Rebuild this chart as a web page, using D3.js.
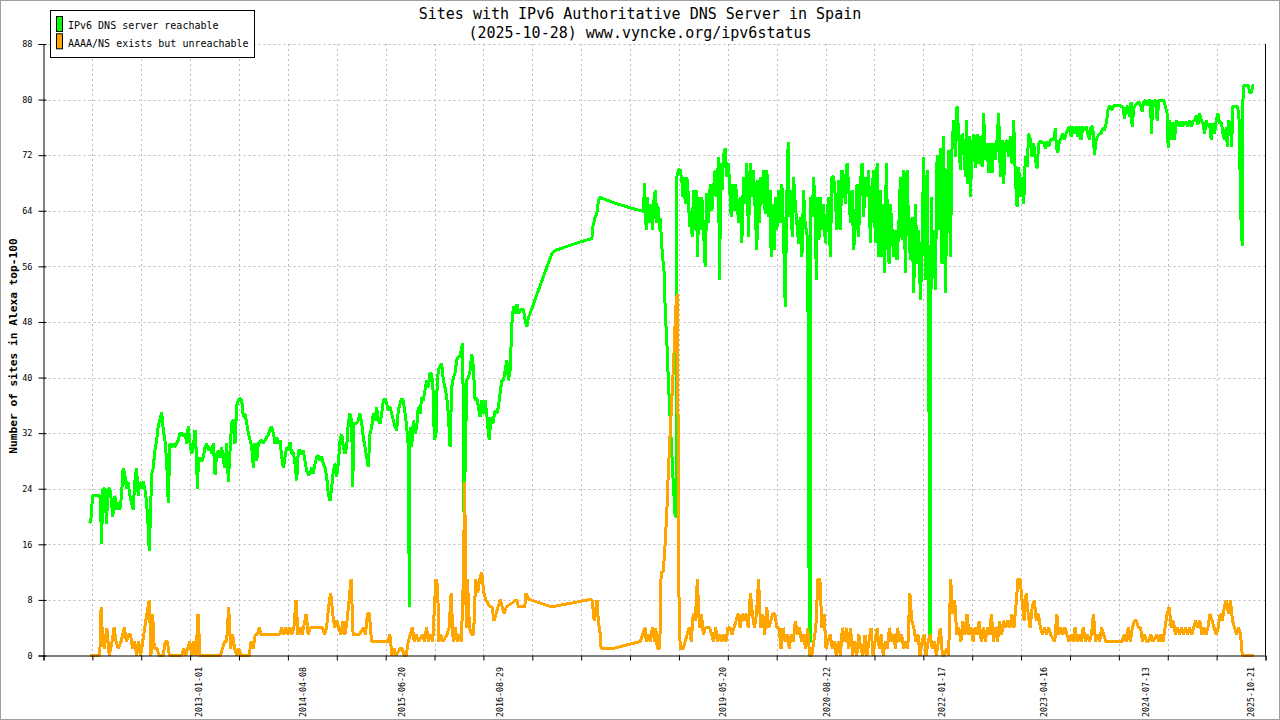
<!DOCTYPE html>
<html>
<head>
<meta charset="utf-8">
<script src="https://cdn.jsdelivr.net/npm/d3@7"></script>
<style>
  html, body { margin: 0; padding: 0; background: #fff; }
  svg { display: block; }
</style>
</head>
<body>
<div id="root"></div>
<script>
// values: [decimal year, number of sites]
const reachable = [
  [2011.672,19],[2011.690,20],[2011.705,23],[2011.745,23],[2011.794,23],[2011.803,22],[2011.815,16],[2011.831,24],
  [2011.855,24],[2011.876,19],[2011.892,24],[2011.916,24],[2011.937,22],[2011.952,20],[2011.977,23],[2011.998,21],
  [2012.013,22],[2012.038,21],[2012.058,23],[2012.078,27],[2012.099,26],[2012.119,24],[2012.139,25],[2012.160,23],
  [2012.180,22],[2012.200,21],[2012.220,25],[2012.241,27],[2012.261,23],[2012.281,25],[2012.302,24],[2012.322,25],
  [2012.342,24],[2012.363,22],[2012.383,18.5],[2012.395,15],[2012.412,21],[2012.424,26],[2012.443,27],[2012.464,29.5],
  [2012.485,31],[2012.504,33],[2012.525,34],[2012.546,35],[2012.565,32.5],[2012.586,31],[2012.607,28],[2012.626,22],
  [2012.647,30.5],[2012.667,30],[2012.687,30.5],[2012.708,30],[2012.728,30.5],[2012.748,31],[2012.769,32],[2012.789,32],
  [2012.809,31.5],[2012.830,32],[2012.850,30.5],[2012.870,33],[2012.891,30.5],[2012.911,29],[2012.931,30],[2012.952,32.5],
  [2012.972,28],[2012.979,24],[2012.992,27.5],[2013.012,28.5],[2013.033,28],[2013.052,28.5],[2013.073,30],[2013.094,30.5],
  [2013.113,29.5],[2013.134,30],[2013.155,29],[2013.174,30.5],[2013.195,26],[2013.215,29],[2013.235,29.5],[2013.256,28.5],
  [2013.276,30],[2013.296,28],[2013.317,27],[2013.337,30.5],[2013.357,25],[2013.378,29.5],[2013.398,33.5],[2013.418,34],
  [2013.438,30.5],[2013.459,36],[2013.479,36.7],[2013.499,37],[2013.520,36.7],[2013.540,34.3],[2013.560,34.8],[2013.581,33.4],
  [2013.601,32],[2013.621,31],[2013.642,30],[2013.662,27],[2013.682,30.5],[2013.703,28],[2013.722,30.5],[2013.743,30.7],
  [2013.764,31],[2013.783,30.5],[2013.804,31],[2013.825,31.4],[2013.844,31.7],[2013.865,32.6],[2013.885,32.9],[2013.905,32],
  [2013.926,30.5],[2013.946,31.4],[2013.966,30.5],[2013.987,31],[2014.007,28.6],[2014.027,27],[2014.048,28.6],[2014.068,30],
  [2014.088,29.5],[2014.108,30.7],[2014.129,29],[2014.149,29.3],[2014.169,27.6],[2014.190,25.2],[2014.210,29.5],[2014.230,29.5],
  [2014.251,29],[2014.271,29.5],[2014.291,28],[2014.312,26.6],[2014.331,26],[2014.352,26.2],[2014.373,27.1],[2014.392,26.2],
  [2014.413,27.6],[2014.434,28.6],[2014.453,28.8],[2014.474,28],[2014.495,28.6],[2014.514,27.6],[2014.535,27.1],[2014.555,25.7],
  [2014.575,23.3],[2014.596,22.3],[2014.616,24.2],[2014.636,26.6],[2014.657,27.6],[2014.677,25.7],[2014.697,27.6],[2014.718,31],
  [2014.738,31.9],[2014.758,30],[2014.779,29],[2014.799,30],[2014.818,33.4],[2014.839,34.8],[2014.860,33.8],[2014.872,24.2],
  [2014.888,33.4],[2014.921,33.4],[2014.940,33.8],[2014.961,34.8],[2014.982,33.4],[2015.001,31.4],[2015.022,30],[2015.043,28.6],
  [2015.062,27.1],[2015.083,31.9],[2015.104,32.9],[2015.123,34.8],[2015.144,33.8],[2015.164,35.8],[2015.184,33.8],[2015.205,33.4],
  [2015.225,34.8],[2015.245,36.7],[2015.266,37],[2015.286,36.2],[2015.306,35.3],[2015.326,35.8],[2015.347,34.8],[2015.367,33.8],
  [2015.387,32.9],[2015.408,32.4],[2015.428,35.3],[2015.448,36.2],[2015.469,37],[2015.489,36.7],[2015.510,34.8],[2015.530,32.9],
  [2015.550,30],[2015.562,7],[2015.571,32.9],[2015.591,30],[2015.611,33.8],[2015.632,31.9],[2015.652,32.9],[2015.671,35.8],
  [2015.692,34.8],[2015.713,37.2],[2015.732,36.7],[2015.753,38.2],[2015.773,39.6],[2015.793,38.6],[2015.814,40.6],[2015.834,40.6],
  [2015.854,37.7],[2015.866,31],[2015.887,31.9],[2015.903,40],[2015.927,41.5],[2015.956,42],[2015.976,39.6],[2015.996,38.6],
  [2016.017,37.2],[2016.037,34.8],[2016.058,30],[2016.078,38.6],[2016.098,40],[2016.118,40.6],[2016.139,42.5],[2016.158,43],
  [2016.179,43],[2016.200,44.4],[2016.212,44.9],[2016.219,33],[2016.228,20],[2016.246,30],[2016.261,39.6],[2016.280,40],
  [2016.301,41],[2016.322,43.4],[2016.341,41.5],[2016.362,36.7],[2016.382,37.2],[2016.402,35.8],[2016.423,34.3],[2016.443,36.7],
  [2016.463,34.8],[2016.484,36.7],[2016.504,34.8],[2016.524,31.9],[2016.536,31],[2016.553,34.3],[2016.578,33.4],[2016.605,35.3],
  [2016.626,34.8],[2016.646,35.8],[2016.666,37.7],[2016.687,39.6],[2016.706,39.6],[2016.727,41],[2016.748,42.5],[2016.767,39.6],
  [2016.788,41],[2016.809,47.8],[2016.828,50.2],[2016.849,49.2],[2016.870,50.6],[2016.889,49.2],[2016.910,49.7],[2016.931,49.9],
  [2016.950,49.7],[2016.971,48.2],[2016.991,47.3],[2017.011,48.7],[2017.032,49.2],[2017.072,50.6],[2017.235,55.9],[2017.296,57.8],
  [2017.336,58.3],[2017.640,59.5],[2017.783,60],[2017.795,61.7],[2017.823,63.1],[2017.844,63.6],[2017.863,65.5],[2017.884,66],
  [2017.905,65.8],[2018.087,65],[2018.290,64.3],[2018.412,63.9],[2018.424,68],[2018.445,61.2],[2018.460,66],[2018.485,62.2],
  [2018.502,65],[2018.521,61.2],[2018.542,66],[2018.558,67],[2018.575,62.2],[2018.595,64.6],[2018.607,61.2],[2018.615,63],
  [2018.640,58],[2018.664,55],[2018.676,50],[2018.688,47],[2018.701,44],[2018.713,40],[2018.725,37],[2018.737,34],
  [2018.749,31],[2018.762,28],[2018.774,25],[2018.798,20],[2018.810,20],[2018.819,68.9],[2018.838,69.9],[2018.859,69.9],
  [2018.879,68.4],[2018.891,66],[2018.907,68.9],[2018.920,65],[2018.940,68.9],[2018.960,66],[2018.972,61.7],[2018.989,64],
  [2019.005,60.2],[2019.021,67],[2019.038,61.2],[2019.054,67],[2019.070,57.4],[2019.087,66],[2019.103,61.2],[2019.123,66],
  [2019.143,61.2],[2019.164,55.9],[2019.184,66.5],[2019.204,62.2],[2019.225,67.9],[2019.245,64],[2019.264,67],[2019.285,69.9],
  [2019.306,66],[2019.325,71.8],[2019.338,54],[2019.355,70.8],[2019.371,67],[2019.386,72],[2019.407,73],[2019.428,68.9],
  [2019.447,70.8],[2019.468,66],[2019.480,63.1],[2019.501,67.9],[2019.517,64],[2019.532,67.9],[2019.550,66],[2019.569,62.2],
  [2019.590,66],[2019.610,59.3],[2019.630,68.9],[2019.651,65],[2019.671,70.8],[2019.691,60.2],[2019.712,70.8],[2019.732,66],
  [2019.752,69.9],[2019.773,64],[2019.793,58.3],[2019.805,68.4],[2019.825,62.2],[2019.842,68.9],[2019.858,65],[2019.873,69.9],
  [2019.894,63.6],[2019.915,69.9],[2019.934,63.1],[2019.955,67],[2019.967,57.4],[2019.988,65],[2020.004,58.3],[2020.020,66],
  [2020.037,61.2],[2020.056,67],[2020.077,62.2],[2020.097,67.9],[2020.117,61.2],[2020.138,50.2],[2020.158,66],[2020.174,73.9],
  [2020.190,63.1],[2020.207,67],[2020.223,60.2],[2020.239,68.9],[2020.260,65],[2020.280,62.2],[2020.300,59.3],[2020.320,63.1],
  [2020.341,57.4],[2020.361,67],[2020.382,61.7],[2020.402,61.2],[2020.418,46.8],[2020.430,2],[2020.443,2],[2020.451,66],
  [2020.467,63.1],[2020.483,68.9],[2020.504,64],[2020.516,54],[2020.532,66],[2020.548,59.8],[2020.564,66],[2020.585,61.2],
  [2020.604,65],[2020.625,59.3],[2020.646,63.1],[2020.665,66],[2020.686,57.4],[2020.706,68.9],[2020.726,68.9],[2020.747,66],
  [2020.767,61.2],[2020.787,68.4],[2020.808,61.2],[2020.828,69.9],[2020.848,68.9],[2020.869,65],[2020.889,70.8],[2020.909,67.5],
  [2020.930,62.2],[2020.950,67],[2020.970,58.3],[2020.991,62.2],[2021.011,67.9],[2021.030,60.2],[2021.051,67.9],[2021.072,70.8],
  [2021.091,63.1],[2021.112,68.9],[2021.133,66],[2021.152,69.9],[2021.173,59.3],[2021.194,67],[2021.213,69.9],[2021.234,59.3],
  [2021.255,70.8],[2021.274,57.4],[2021.295,67],[2021.315,57.4],[2021.335,65],[2021.347,55],[2021.368,70.8],[2021.384,60.2],
  [2021.401,56.4],[2021.417,65],[2021.438,61.2],[2021.457,57.4],[2021.478,61.2],[2021.498,56.9],[2021.518,61.2],[2021.539,68.9],
  [2021.559,59.8],[2021.579,69.9],[2021.600,55],[2021.620,69.9],[2021.640,61.2],[2021.661,56.9],[2021.681,63.1],[2021.701,52.1],
  [2021.722,65],[2021.742,56.4],[2021.762,61.2],[2021.783,51.1],[2021.803,58.8],[2021.822,71.8],[2021.843,54],[2021.864,69.9],
  [2021.883,51.6],[2021.896,3],[2021.908,3],[2021.913,66],[2021.925,56.4],[2021.944,61.2],[2021.965,52.6],[2021.986,72],
  [2022.005,61.2],[2022.026,73],[2022.046,56.4],[2022.066,74.7],[2022.087,52.1],[2022.107,66],[2022.127,72.7],[2022.148,57.4],
  [2022.168,73.2],[2022.188,77],[2022.209,71.8],[2022.229,79],[2022.249,75.1],[2022.269,69.9],[2022.290,75.1],[2022.310,73.7],
  [2022.330,68.9],[2022.343,77],[2022.358,67.9],[2022.376,74.7],[2022.391,66],[2022.412,72.7],[2022.431,75.1],[2022.452,70.1],
  [2022.473,75.1],[2022.492,70.8],[2022.513,74.7],[2022.534,70.3],[2022.553,78],[2022.574,71.3],[2022.594,73.7],[2022.614,69.4],
  [2022.635,73.7],[2022.655,69.4],[2022.675,73.7],[2022.696,71.3],[2022.716,74.2],[2022.736,78],[2022.757,68.9],[2022.777,74.2],
  [2022.797,67.9],[2022.818,73.7],[2022.838,74.2],[2022.858,71.8],[2022.878,74.7],[2022.899,70.8],[2022.919,77],[2022.939,68.9],
  [2022.960,64.6],[2022.980,70.3],[2023.001,66],[2023.021,68.9],[2023.041,65],[2023.061,71.8],[2023.082,70.3],[2023.102,75.1],
  [2023.122,74.2],[2023.143,71.8],[2023.163,73.7],[2023.183,71.3],[2023.204,70.1],[2023.224,73.7],[2023.244,74],[2023.285,73.7],
  [2023.305,73],[2023.326,74],[2023.346,73.2],[2023.366,74.2],[2023.406,74.2],[2023.427,75.9],[2023.439,73.2],[2023.455,72.3],
  [2023.476,74],[2023.496,74.4],[2023.516,75.1],[2023.537,74.2],[2023.557,75.1],[2023.577,75.6],[2023.597,76.1],[2023.618,74.7],
  [2023.638,76.1],[2023.659,75.1],[2023.679,76.1],[2023.699,74.7],[2023.720,76.1],[2023.740,74.2],[2023.760,76.1],[2023.781,75.6],
  [2023.801,76.1],[2023.821,75.1],[2023.842,74.2],[2023.862,76.1],[2023.882,76.1],[2023.903,72],[2023.923,74.2],[2023.943,74.7],
  [2023.964,75.1],[2023.984,75.1],[2024.004,75.9],[2024.025,75.6],[2024.045,76.6],[2024.057,77.5],[2024.068,78.5],[2024.088,79.1],
  [2024.117,78.5],[2024.137,79.1],[2024.218,79.1],[2024.251,78.9],[2024.267,77.3],[2024.283,78.5],[2024.307,79.1],[2024.328,77.5],
  [2024.349,79.7],[2024.361,76.1],[2024.380,78.7],[2024.401,79.2],[2024.441,79.7],[2024.462,79.2],[2024.483,78.3],[2024.502,79.7],
  [2024.523,79.9],[2024.543,79.2],[2024.563,79.9],[2024.584,79.9],[2024.596,75.1],[2024.612,79.7],[2024.644,79.9],[2024.665,77],
  [2024.685,79.9],[2024.746,79.9],[2024.766,79],[2024.787,78],[2024.799,73],[2024.818,77],[2024.835,74.2],[2024.855,76.8],
  [2024.876,74.2],[2024.896,77],[2024.916,76.6],[2024.937,76.1],[2024.957,76.8],[2024.977,76.1],[2024.998,76.8],[2025.018,76.6],
  [2025.038,76.1],[2025.059,77],[2025.079,76.1],[2025.099,76.8],[2025.120,77],[2025.140,77.7],[2025.160,76.4],[2025.180,78],
  [2025.201,77],[2025.221,76.6],[2025.242,75.1],[2025.262,77],[2025.282,76.1],[2025.303,76.6],[2025.323,74.2],[2025.343,76.6],
  [2025.364,75.1],[2025.384,77],[2025.404,78],[2025.424,76.6],[2025.445,76.8],[2025.465,75.1],[2025.486,74.2],[2025.506,76.1],
  [2025.518,73.2],[2025.538,77],[2025.558,76.1],[2025.571,73.2],[2025.586,79],[2025.640,79],[2025.660,78],[2025.675,69],
  [2025.687,62],[2025.701,59],[2025.711,82],[2025.778,82],[2025.790,81],[2025.815,81],[2025.827,82],[2025.839,82]
];

const unreachable = [
  [2011.680,0],[2011.794,0],[2011.810,7],[2011.829,2],[2011.849,1],[2011.879,4],[2011.909,0],[2011.943,2],
  [2011.968,4],[2011.993,2],[2012.018,1],[2012.053,2],[2012.092,4],[2012.117,2],[2012.142,3],[2012.167,3],
  [2012.192,1],[2012.217,2],[2012.242,0],[2012.267,2],[2012.291,0],[2012.316,2],[2012.341,4],[2012.366,6],
  [2012.396,8],[2012.416,0],[2012.436,6],[2012.456,1],[2012.490,1],[2012.515,0],[2012.565,0],[2012.590,2],
  [2012.615,2],[2012.639,0],[2012.789,0],[2012.814,1],[2012.838,0],[2012.863,1],[2012.888,2],[2012.913,0],
  [2012.938,2],[2012.963,0],[2012.988,6],[2013.012,0],[2013.261,0],[2013.286,1],[2013.311,2],[2013.336,2],
  [2013.361,7],[2013.385,1],[2013.410,3],[2013.435,1],[2013.460,0],[2013.485,1],[2013.510,0],[2013.609,0],
  [2013.634,2],[2013.659,1],[2013.684,3],[2013.709,3],[2013.734,4],[2013.758,3],[2013.957,3],[2013.982,3],
  [2014.007,4],[2014.032,3],[2014.057,4],[2014.082,3],[2014.106,4],[2014.131,3],[2014.156,4],[2014.181,8],
  [2014.206,3],[2014.231,4],[2014.256,3],[2014.305,6],[2014.330,3],[2014.355,4],[2014.504,4],[2014.529,3],
  [2014.554,4],[2014.579,7],[2014.604,9],[2014.629,6],[2014.654,4],[2014.679,5],[2014.703,4],[2014.728,3],
  [2014.753,5],[2014.778,3],[2014.803,5],[2014.828,8],[2014.853,11],[2014.877,3],[2014.952,3],[2015.002,4],
  [2015.027,3],[2015.052,6],[2015.076,6],[2015.101,2],[2015.300,2],[2015.325,3],[2015.350,0],[2015.375,1],
  [2015.400,0],[2015.449,1],[2015.474,1],[2015.499,0],[2015.524,0],[2015.549,2],[2015.573,3],[2015.598,4],
  [2015.623,2],[2015.648,3],[2015.673,2],[2015.723,3],[2015.748,2],[2015.772,4],[2015.797,2],[2015.822,3],
  [2015.847,2],[2015.872,8],[2015.887,11],[2015.907,10],[2015.922,2],[2015.946,3],[2015.971,2],[2016.021,3],
  [2016.046,4],[2016.071,9],[2016.096,2],[2016.120,4],[2016.145,2],[2016.170,3],[2016.195,2],[2016.220,11],
  [2016.235,25],[2016.255,4],[2016.269,11],[2016.294,4],[2016.319,3],[2016.344,3],[2016.369,11],[2016.394,9],
  [2016.419,11],[2016.443,12],[2016.468,9],[2016.493,8],[2016.543,7],[2016.568,7],[2016.592,5],[2016.617,6],
  [2016.642,7],[2016.667,8],[2016.692,7],[2016.717,6],[2016.741,7],[2016.866,8],[2016.891,7],[2016.966,7],
  [2016.981,9],[2017.016,8],[2017.040,8],[2017.289,7],[2017.737,8],[2017.786,8],[2017.811,5],[2017.846,8],
  [2017.861,5],[2017.886,3],[2017.896,1],[2018.035,1],[2018.372,2],[2018.431,4],[2018.446,2],[2018.471,3],
  [2018.496,2],[2018.521,4],[2018.546,2],[2018.561,4],[2018.580,1],[2018.610,1],[2018.627,12],[2018.652,12],
  [2018.676,16],[2018.701,22],[2018.713,26],[2018.737,32],[2018.762,38],[2018.786,44],[2018.804,50],[2018.823,52],
  [2018.835,30],[2018.847,3],[2018.869,1],[2018.894,1],[2018.919,2],[2018.943,3],[2018.968,4],[2018.993,2],
  [2019.018,6],[2019.043,5],[2019.068,11],[2019.093,4],[2019.117,6],[2019.142,3],[2019.167,4],[2019.217,4],
  [2019.242,3],[2019.267,2],[2019.291,4],[2019.316,2],[2019.341,3],[2019.366,2],[2019.391,3],[2019.416,2],
  [2019.441,4],[2019.466,4],[2019.490,3],[2019.515,4],[2019.540,5],[2019.565,6],[2019.590,4],[2019.615,6],
  [2019.640,5],[2019.664,6],[2019.689,4],[2019.714,9],[2019.739,6],[2019.764,4],[2019.789,6],[2019.814,11],
  [2019.838,4],[2019.863,6],[2019.888,3],[2019.913,7],[2019.938,4],[2019.963,5],[2019.988,6],[2020.012,6],
  [2020.037,4],[2020.062,4],[2020.087,1],[2020.112,4],[2020.137,2],[2020.162,3],[2020.187,1],[2020.211,3],
  [2020.236,2],[2020.261,5],[2020.286,3],[2020.311,4],[2020.336,2],[2020.361,3],[2020.385,1],[2020.410,4],
  [2020.435,0],[2020.460,0],[2020.485,2],[2020.510,4],[2020.535,11],[2020.559,11],[2020.584,4],[2020.609,6],
  [2020.634,1],[2020.659,2],[2020.684,3],[2020.709,1],[2020.734,2],[2020.758,0],[2020.783,2],[2020.808,0],
  [2020.833,4],[2020.858,2],[2020.883,4],[2020.908,1],[2020.932,4],[2020.957,0],[2020.982,2],[2021.007,0],
  [2021.032,3],[2021.057,1],[2021.082,0],[2021.107,3],[2021.132,0],[2021.156,2],[2021.181,4],[2021.206,0],
  [2021.231,2],[2021.256,4],[2021.281,1],[2021.305,3],[2021.330,0],[2021.355,2],[2021.380,1],[2021.405,4],
  [2021.430,2],[2021.455,3],[2021.479,1],[2021.504,4],[2021.529,2],[2021.554,3],[2021.579,1],[2021.604,2],
  [2021.629,1],[2021.654,9],[2021.678,5],[2021.703,4],[2021.728,2],[2021.753,3],[2021.778,0],[2021.803,2],
  [2021.828,3],[2021.852,0],[2021.877,2],[2021.902,3],[2021.927,1],[2021.952,2],[2021.977,0],[2022.002,2],
  [2022.026,4],[2022.051,0],[2022.076,0],[2022.101,1],[2022.126,0],[2022.151,11],[2022.176,6],[2022.201,8],
  [2022.225,3],[2022.250,4],[2022.275,2],[2022.300,5],[2022.325,3],[2022.350,6],[2022.375,3],[2022.399,4],
  [2022.424,2],[2022.449,4],[2022.474,3],[2022.499,5],[2022.524,2],[2022.549,4],[2022.574,2],[2022.598,4],
  [2022.623,3],[2022.648,6],[2022.673,2],[2022.698,4],[2022.723,2],[2022.747,5],[2022.772,3],[2022.797,5],
  [2022.822,4],[2022.847,5],[2022.872,4],[2022.897,6],[2022.922,4],[2022.946,7],[2022.971,11],[2022.996,11],
  [2023.021,8],[2023.046,5],[2023.071,9],[2023.096,6],[2023.120,4],[2023.145,7],[2023.170,8],[2023.195,5],
  [2023.220,6],[2023.245,4],[2023.270,3],[2023.295,4],[2023.319,3],[2023.344,4],[2023.369,3],[2023.419,2],
  [2023.444,6],[2023.468,3],[2023.493,4],[2023.518,3],[2023.543,4],[2023.568,3],[2023.593,2],[2023.618,3],
  [2023.643,2],[2023.667,4],[2023.692,2],[2023.717,3],[2023.742,2],[2023.767,4],[2023.792,2],[2023.817,3],
  [2023.842,2],[2023.866,3],[2023.891,6],[2023.916,2],[2023.941,3],[2023.966,2],[2023.991,4],[2024.016,3],
  [2024.041,2],[2024.239,2],[2024.264,3],[2024.289,2],[2024.314,4],[2024.339,2],[2024.364,4],[2024.388,5],
  [2024.413,5],[2024.438,4],[2024.463,4],[2024.488,2],[2024.513,3],[2024.537,2],[2024.562,2],[2024.587,3],
  [2024.612,2],[2024.662,3],[2024.687,2],[2024.712,3],[2024.737,2],[2024.761,4],[2024.786,6],[2024.811,7],
  [2024.836,4],[2024.861,5],[2024.886,3],[2024.911,4],[2024.936,3],[2024.960,4],[2024.985,3],[2025.010,4],
  [2025.035,3],[2025.060,4],[2025.085,3],[2025.109,4],[2025.134,5],[2025.159,4],[2025.184,5],[2025.209,3],
  [2025.234,4],[2025.259,3],[2025.283,4],[2025.308,6],[2025.333,5],[2025.358,4],[2025.383,3],[2025.408,4],
  [2025.433,6],[2025.458,5],[2025.482,7],[2025.507,8],[2025.532,6],[2025.557,8],[2025.582,5],[2025.607,4],
  [2025.632,3],[2025.656,4],[2025.681,3],[2025.701,0],[2025.839,0]
];

const seriesNames = ["IPv6 DNS server reachable", "AAAA/NS exists but unreachable"];
const seriesColors = ["#00ff00", "#ffa500"];
const xLabelDates = ["2013-01-01", "2014-04-08", "2015-06-20", "2016-08-29", "2019-05-20",
  "2020-08-22", "2022-01-17", "2023-04-16", "2024-07-13", "2025-10-21"];
const yTickValues = [0, 8, 16, 24, 32, 40, 48, 56, 64, 72, 80, 88];
const xDomainYears = [2011.108, 2025.984];

const width = 1280;
const height = 720;
const plotLeft = 43.5, plotRight = 1265.5, plotTop = 44, plotBottom = 655.5;
const mono = "'DejaVu Sans Mono', 'Liberation Mono', monospace";

// decimal year -> Date
const yearToDate = (yr) => {
  const y0 = Math.floor(yr);
  const a = Date.UTC(y0, 0, 1);
  const b = Date.UTC(y0 + 1, 0, 1);
  return new Date(a + (yr - y0) * (b - a));
};

const xScale = d3.scaleUtc()
  .domain(xDomainYears.map(yearToDate))
  .range([plotLeft, plotRight]);

const yScale = d3.scaleLinear()
  .domain([0, 88])
  .range([plotBottom, plotTop]);

const svg = d3.select("#root")
  .append("svg")
  .attr("width", width)
  .attr("height", height);

// outer frame
svg.append("rect")
  .attr("x", 0.5).attr("y", 0.5)
  .attr("width", width - 1).attr("height", height - 1)
  .attr("fill", "#fff")
  .attr("stroke", "#a0a0a0");

// grid: 25 equal steps along x
const [d0, d1] = xScale.domain();
const gridTicks = d3.range(26).map((i) => new Date(+d0 + (i / 25) * (d1 - d0)));

svg.append("g")
  .selectAll("line")
  .data(gridTicks.slice(1, -1))
  .enter()
  .append("line")
  .attr("x1", (d) => Math.round(xScale(d)) + 0.5)
  .attr("x2", (d) => Math.round(xScale(d)) + 0.5)
  .attr("y1", plotTop)
  .attr("y2", plotBottom)
  .attr("stroke", "#bbb")
  .attr("stroke-dasharray", "2,3");

svg.append("g")
  .selectAll("line")
  .data(yTickValues.slice(1))
  .enter()
  .append("line")
  .attr("x1", plotLeft)
  .attr("x2", plotRight)
  .attr("y1", (d) => Math.round(yScale(d)) + 0.5)
  .attr("y2", (d) => Math.round(yScale(d)) + 0.5)
  .attr("stroke", "#bbb")
  .attr("stroke-dasharray", "2,3");

// lines (crisp, like the bitmap original)
const line = d3.line()
  .x((d) => xScale(yearToDate(d[0])))
  .y((d) => yScale(d[1]));

[reachable, unreachable].forEach((data, i) => {
  svg.append("path")
    .datum(data)
    .attr("d", line)
    .attr("fill", "none")
    .attr("stroke", seriesColors[i])
    .attr("stroke-width", 3)
    .attr("stroke-linejoin", "bevel")
    .attr("shape-rendering", "crispEdges");
});

// axes
const yAxis = d3.axisLeft(yScale).tickValues(yTickValues).tickSize(5).tickPadding(6);
const yG = svg.append("g")
  .attr("transform", `translate(${plotLeft},0)`)
  .call(yAxis);
yG.selectAll(".tick line").attr("x1", 3);
yG.selectAll("text").style("font-family", mono).style("font-size", "8.5px");

const xAxis = d3.axisBottom(xScale).tickValues(gridTicks).tickSize(5).tickFormat("");
svg.append("g")
  .attr("transform", `translate(0,${plotBottom})`)
  .call(xAxis);

const parseDay = d3.utcParse("%Y-%m-%d");
const xLabels = d3.axisBottom(xScale)
  .tickValues(xLabelDates.map(parseDay))
  .tickSize(0)
  .tickFormat(d3.utcFormat("%Y-%m-%d"));
const xl = svg.append("g")
  .attr("transform", `translate(0,${plotBottom})`)
  .call(xLabels);
xl.select(".domain").remove();
xl.selectAll("text")
  .attr("transform", "rotate(-90)")
  .attr("text-anchor", "end")
  .attr("x", -11.5)
  .attr("y", 0)
  .attr("dy", "0.35em")
  .style("font-family", mono)
  .style("font-size", "8.3px");

// right border
svg.append("line")
  .attr("x1", plotRight).attr("x2", plotRight)
  .attr("y1", plotTop).attr("y2", plotBottom)
  .attr("stroke", "#000");

// title
const title = svg.append("text")
  .attr("text-anchor", "middle")
  .style("font-family", mono)
  .style("font-size", "15px");
title.append("tspan").attr("x", 640).attr("y", 18.5)
  .text("Sites with IPv6 Authoritative DNS Server in Spain");
title.append("tspan").attr("x", 640).attr("y", 37.5)
  .text("(2025-10-28) www.vyncke.org/ipv6status");

// y label
svg.append("text")
  .attr("transform", "translate(16.5,346) rotate(-90)")
  .attr("text-anchor", "middle")
  .style("font-family", mono)
  .style("font-weight", "bold")
  .style("font-size", "11.2px")
  .text("Number of sites in Alexa top-100");

// legend
const legend = svg.append("g");
legend.append("rect")
  .attr("x", 50.5).attr("y", 10.5)
  .attr("width", 204).attr("height", 47)
  .attr("fill", "#fff")
  .attr("stroke", "#000");
seriesNames.forEach((name, i) => {
  legend.append("rect")
    .attr("x", 56.5).attr("y", 16.5 + i * 17.3)
    .attr("width", 6).attr("height", 15)
    .attr("fill", seriesColors[i])
    .attr("stroke", "#000");
  legend.append("text")
    .attr("x", 68)
    .attr("y", 29.3 + i * 17.3)
    .style("font-family", mono)
    .style("font-size", "10px")
    .text(name);
});
</script>
</body>
</html>
